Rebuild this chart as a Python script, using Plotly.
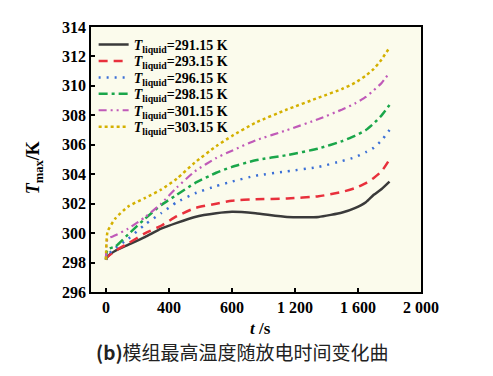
import plotly.graph_objects as go

t = [0, 10, 60, 140, 250, 350, 450, 565, 700, 800, 950, 1150, 1350, 1500,
     1580, 1650, 1700, 1750, 1800]

T_291 = [298.2, 298.4, 298.8, 299.2, 299.75, 300.3, 300.7, 301.1, 301.35, 301.45,
         301.35, 301.1, 301.1, 301.4, 301.7, 302.1, 302.6, 303.0, 303.5]
T_293 = [298.2, 298.4, 298.8, 299.3, 300.0, 300.5, 301.15, 301.7, 302.0, 302.2,
         302.3, 302.35, 302.5, 302.8, 303.05, 303.4, 303.75, 304.2, 305.0]
T_296 = [298.2, 298.5, 299.0, 299.6, 300.6, 301.35, 302.1, 302.7, 303.2, 303.5,
         303.9, 304.2, 304.5, 304.9, 305.15, 305.5, 305.8, 306.3, 307.0]
T_298 = [298.2, 298.9, 299.1, 299.9, 301.0, 301.9, 302.6, 303.4, 304.1, 304.5,
         304.95, 305.3, 305.75, 306.25, 306.6, 307.0, 307.45, 308.0, 308.7]
T_301 = [298.2, 299.6, 299.85, 300.3, 301.1, 302.0, 303.1, 304.2, 305.1, 305.6,
         306.3, 307.0, 307.75, 308.4, 308.8, 309.25, 309.7, 310.2, 310.9]
T_303 = [298.2, 300.1, 301.0, 301.8, 302.4, 302.95, 303.7, 304.8, 305.9, 306.6,
         307.5, 308.4, 309.2, 309.8, 310.2, 310.7, 311.15, 311.8, 312.6]

labels = ["291.15", "293.15", "296.15", "298.15", "301.15", "303.15"]
x_tickvals = [0, 400, 800, 1200, 1600, 2000]
x_ticktext = ["0", "400", "600", "1 200", "1 600", "2 000"]
y_tickvals = [296, 298, 300, 302, 304, 306, 308, 310, 312, 314]

series = [T_291, T_293, T_296, T_298, T_301, T_303]
colors = ["#3a3a3a", "#e8303c", "#3b6fd6", "#1aa64a", "#c05ab8", "#d4b000"]
dashes = ["solid", "9px,6px", "2px,6px", "9px,4px,3px,4px", "8px,4px,2px,4px,2px,4px", "3px,3px"]
widths = [2.5, 2.5, 2.5, 2.5, 2.2, 2.5]

serif = "Liberation Serif"
legend_font = dict(family=serif, size=14, color="black", weight="bold")

fig = go.Figure()
legends = {}
for i, (ys, lab, c, d, w) in enumerate(zip(series, labels, colors, dashes, widths)):
    key = "legend" if i == 0 else "legend%d" % (i + 1)
    fig.add_trace(go.Scatter(
        x=t, y=ys, mode="lines",
        line=dict(color=c, dash=d, width=w, shape="spline", smoothing=0.5),
        name="<i>T</i><sub>liquid</sub>=" + lab + " K",
        legend=key,
    ))
    legends[key] = dict(
        x=0.008, y=0.932 - i * 0.0619, xanchor="left", yanchor="middle",
        bgcolor="rgba(0,0,0,0)", font=legend_font, itemwidth=30,
    )

fig.update_layout(
    width=485, height=368,
    margin=dict(l=83, r=72, t=19, b=84),
    paper_bgcolor="white",
    plot_bgcolor="#fbfbec",
    showlegend=True,
    xaxis=dict(
        range=[-95, 2000],
        tickvals=x_tickvals, ticktext=x_ticktext,
        ticks="inside", ticklen=4, tickwidth=1.5, tickcolor="black",
        showline=True, linecolor="black", linewidth=1.5, mirror=True,
        showgrid=False, zeroline=False,
        tickfont=dict(family=serif, size=16, color="black", weight="bold"),
    ),
    yaxis=dict(
        range=[296, 314],
        tickvals=y_tickvals,
        ticks="inside", ticklen=4, tickwidth=1.5, tickcolor="black",
        showline=True, linecolor="black", linewidth=1.5, mirror=True,
        showgrid=False, zeroline=False,
        tickfont=dict(family=serif, size=16, color="black", weight="bold"),
    ),
    annotations=[
        dict(text="<i>T</i><sub>max</sub>/K", xref="paper", yref="paper",
             x=-0.17, y=0.47, textangle=-90, showarrow=False,
             xanchor="center", yanchor="middle",
             font=dict(family=serif, size=18, color="black", weight="bold")),
        dict(text="<i>t</i> /s", xref="paper", yref="paper",
             x=0.515, y=-0.136, showarrow=False, xanchor="center", yanchor="middle",
             font=dict(family=serif, size=17, color="black", weight="bold")),
        dict(text="<b>(b)</b>模组最高温度随放电时间变化曲", xref="paper", yref="paper",
             x=0.46, y=-0.226, showarrow=False, xanchor="center", yanchor="middle",
             font=dict(family="Noto Sans CJK SC", size=19, color="#222222")),
    ],
    **legends,
)

fig.write_html("out.html")
